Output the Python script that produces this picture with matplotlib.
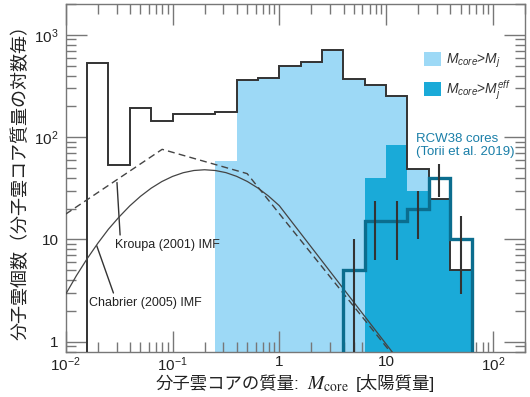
import numpy as np
import matplotlib
matplotlib.use("Agg")
import matplotlib.pyplot as plt
from matplotlib.patches import Patch
from matplotlib.ticker import LogLocator, NullFormatter
from matplotlib.offsetbox import TextArea, HPacker, AnchoredOffsetbox

plt.rcParams['font.family'] = ['Liberation Sans', 'Noto Sans CJK JP']
plt.rcParams['mathtext.fontset'] = 'custom'
plt.rcParams['mathtext.rm'] = 'Liberation Sans'
plt.rcParams['mathtext.it'] = 'Liberation Sans:italic'

# log10 bin edges (0.2 dex)
edges_all = np.arange(-1.8, 1.81, 0.2)
edges_jeans = np.arange(-0.6, 1.81, 0.2)
edges_eff = np.arange(0.8, 1.81, 0.2)
edges_rcw = np.arange(0.6, 1.81, 0.2)

# counts per log mass bin
n_all = [528, 54, 194, 143, 169, 169, 178, 358, 377, 501, 540, 710, 372, 320, 252, 49, 25, 5]
n_jeans = [59, 358, 377, 501, 540, 710, 372, 320, 252, 49, 25, 5]
n_eff = [40, 84.5, 30, 25, 5]
n_rcw = [5, 15, 15, 20, 40, 10]
err_rcw = [5, 8.7, 8.7, 10, 14.1, 7.1]

# IMF curves
kroupa_m = [0.01, 0.08, 0.5, 15]
kroupa_n = [17.7, 76, 44, 0.53]
chab_logm = [-2.0, -1.9, -1.8, -1.7, -1.6, -1.5, -1.4, -1.3, -1.2, -1.1, -1.0,
             -0.9, -0.8, -0.7, -0.6, -0.5, -0.4, -0.3, -0.2, -0.1, 0.0, 1.2]
chab_n = [2.92, 4.43, 6.47, 9.16, 12.6, 16.6, 21.3, 26.4, 31.7, 36.8, 41.3,
          44.9, 47.2, 48.0, 47.2, 45.0, 41.4, 36.9, 31.8, 26.5, 21.4, 0.51]

c_light = '#9dd9f6'
c_dark = '#1aaad8'
c_teal = '#0b6d8e'
c_line = '#333333'
c_axis = '#777777'

fig = plt.figure(figsize=(5.3, 3.97), dpi=100)
ax = fig.add_axes([0.124, 0.1141, 0.8666, 0.8758])
ax.set_xscale('log')
ax.set_yscale('log')

base = 0.1
ax.stairs(n_jeans, 10**edges_jeans, baseline=base, fill=True, color=c_light, lw=0, zorder=1)
ax.stairs(n_eff, 10**edges_eff, baseline=base, fill=True, color=c_dark, lw=0, zorder=2)
ax.stairs(n_all, 10**edges_all, baseline=base, color=c_line, lw=1.4, zorder=3)

ax.plot(kroupa_m, kroupa_n, color='#444444', lw=1, ls=(0, (5, 3)), zorder=4)
ax.plot(10**np.array(chab_logm), chab_n, color='#444444', lw=0.9, zorder=4)

ax.stairs(n_rcw, 10**edges_rcw, baseline=base, color=c_teal, lw=2.4, zorder=5)
centers = 10**((edges_rcw[:-1] + edges_rcw[1:]) / 2)
lo = np.maximum(np.array(n_rcw) - np.array(err_rcw), 0.05)
hi = np.array(n_rcw) + np.array(err_rcw)
ax.vlines(centers, lo, hi, color=c_line, lw=1.5, zorder=6)

ax.set_xlim(0.01, 200)
ax.set_ylim(0.8, 2000)

ax.set_xticks([0.01, 0.1, 1, 10, 100],
              [r'$10^{-2}$', r'$10^{-1}$', '1', '10', r'$10^{2}$'])
ax.set_yticks([1, 10, 100, 1000], ['1', '10', r'$10^{2}$', r'$10^{3}$'])
for axis in (ax.xaxis, ax.yaxis):
    axis.set_minor_locator(LogLocator(base=10, subs=np.arange(2, 10), numticks=30))
    axis.set_minor_formatter(NullFormatter())
ax.tick_params(which='both', direction='in', top=True, right=True,
               color=c_axis, width=1, labelsize=11, labelcolor='#222222')
ax.tick_params(which='major', length=15)
ax.tick_params(which='minor', length=7.5)
ax.tick_params(axis='x', pad=2.5)
ax.tick_params(axis='y', pad=5)
for s in ax.spines.values():
    s.set_color(c_axis)
    s.set_linewidth(1)

# x label: Japanese text with a serif M_core in the middle
tp = dict(fontsize=12.5, color='#222222')
xlab = HPacker(children=[TextArea('分子雲コアの質量:', textprops=tp),
                         TextArea(r'$M_{\rm core}$', textprops=dict(tp, fontsize=14, math_fontfamily='stix')),
                         TextArea('[太陽質量]', textprops=tp)],
               align='baseline', pad=0, sep=5)
fig.add_artist(AnchoredOffsetbox(loc='center', child=xlab, frameon=False, pad=0, borderpad=0,
                                 bbox_to_anchor=(0.557, 0.033), bbox_transform=fig.transFigure))

ax.set_ylabel('分子雲個数（分子雲コア質量の対数毎）', fontsize=13,
              color='#222222', labelpad=3)

ax.annotate('Kroupa (2001) IMF', xy=(0.0302, 36), xytext=(0.029, 8.8),
            fontsize=9, color='#222222', ha='left', va='center',
            arrowprops=dict(arrowstyle='-', color='#333333', lw=1,
                            relpos=(0.05, 1), shrinkA=1, shrinkB=0))
ax.annotate('Chabrier (2005) IMF', xy=(0.0195, 8.7), xytext=(0.0165, 2.39),
            fontsize=9, color='#222222', ha='left', va='center',
            arrowprops=dict(arrowstyle='-', color='#333333', lw=1,
                            relpos=(0.23, 1), shrinkA=1, shrinkB=0))

handles = [Patch(facecolor=c_light, edgecolor='none', label='$M_{core}$>$M_j$'),
           Patch(facecolor=c_dark, edgecolor='none', label='$M_{core}$>$M_j^{eff}$')]
ax.legend(handles=handles, loc='upper left', bbox_to_anchor=(0.78, 0.862),
          frameon=False, borderpad=0, borderaxespad=0, handlelength=1.2,
          handleheight=1.15, handletextpad=0.4, labelspacing=0.55,
          fontsize=10, labelcolor='#333333')

ax.text(0.763, 0.629, 'RCW38 cores\n(Torii et al. 2019)', transform=ax.transAxes,
        fontsize=9.5, color='#1a7fa8', ha='left', va='top', linespacing=1.15)

fig.savefig('out.png', dpi=100)
